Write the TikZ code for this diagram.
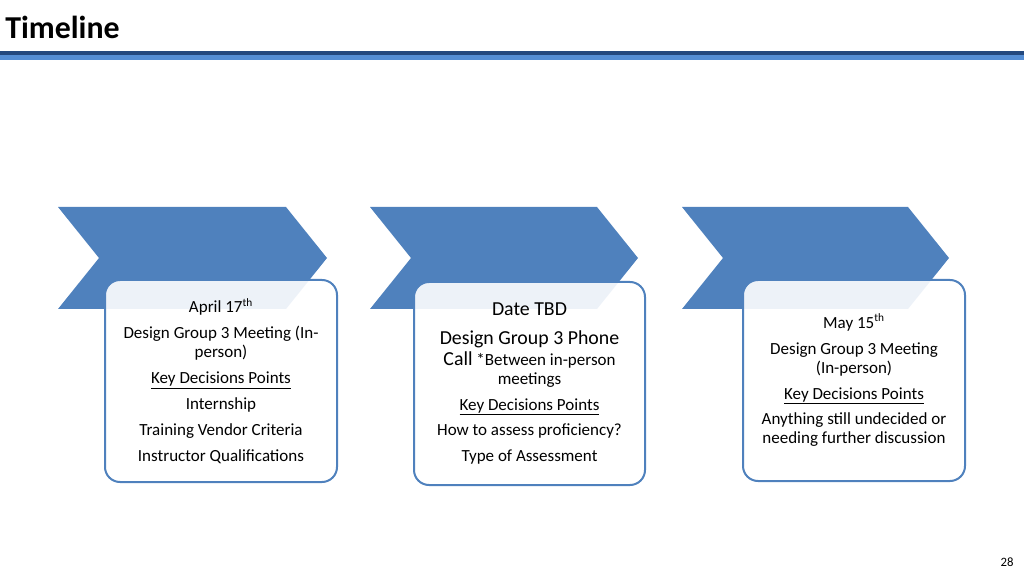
\documentclass[tikz,border=0pt]{standalone}
\usepackage{fontspec}
\setmainfont{Carlito}
\usepackage{tikz}
\usetikzlibrary{positioning}
\definecolor{accent}{HTML}{4F81BD}
\definecolor{rule dark}{HTML}{23487E}
\definecolor{rule light}{HTML}{548DD4}
\newdimen\px \px=0.703125bp
\tikzset{
  chevron/.style={fill=accent},
  eventbox/.style={draw=accent, line width=2\px, fill=white, fill opacity=0.9,
    text opacity=1, rounded corners=15\px, align=flush center, inner sep=0pt,
    font=\fontsize{12}{13.4}\selectfont}
}

\begin{document}
\begin{tikzpicture}[x=1\px, y=-1\px]
	\useasboundingbox (0,0) rectangle (1024,576);

      % header
      \node	(title) [anchor=base west, inner sep=0pt, font=\fontsize{22.5}{26}\selectfont\bfseries] at (5,39) {Timeline};
      \fill[rule dark] (0,51) rectangle (1024,55);
      \fill[rule light] (0,55) rectangle (1024,60);

      % chevrons
      \fill[chevron] (58,207) -- (286,207) -- (327,258) -- (286,309) -- (58,309) -- (99,258) -- cycle;
      \fill[chevron] (370,207) -- (597,207) -- (638,258) -- (597,309) -- (370,309) -- (411,258) -- cycle;
      \fill[chevron] (682,207) -- (908,207) -- (949,258) -- (908,309) -- (682,309) -- (723,258) -- cycle;

      % event boxes
      \node	(B1) [eventbox, minimum width=232\px, minimum height=202\px, text width=228\px] at (221,381)
        {April 17\textsuperscript{th}\\[4.9bp]
         Design Group 3 Meeting (In-\\person)\\[4.9bp]
         \underline{Key Decisions Points}\\[4.9bp]
         Internship\\[4.9bp]
         Training Vendor Criteria\\[4.9bp]
         Instructor Qualifications};
      \node	(B2) [eventbox, minimum width=231\px, minimum height=203\px, text width=227\px] at (529.5,383.5)
        {{\fontsize{14}{13.4}\selectfont Date TBD}\\[7.5bp]
         {\fontsize{14}{13.4}\selectfont Design Group 3 Phone}\\[1bp]
         {\fontsize{14}{13.4}\selectfont Call} *Between in-person\\
         meetings\\[4.9bp]
         \underline{Key Decisions Points}\\[4.9bp]
         How to assess proficiency?\\[4.9bp]
         Type of Assessment};
      \node	(B3) [eventbox, minimum width=222\px, minimum height=201\px, text width=218\px] at (854,380.5)
        {May 15\textsuperscript{th}\\[4.9bp]
         Design Group 3 Meeting\\(In-person)\\[4.9bp]
         \underline{Key Decisions Points}\\[4.9bp]
         Anything still undecided or\\needing further discussion};

      % page number
      \node	(page) [anchor=base, inner sep=0pt, font=\fontsize{9}{11}\selectfont] at (1007,566) {28};
\end{tikzpicture}
\end{document}
